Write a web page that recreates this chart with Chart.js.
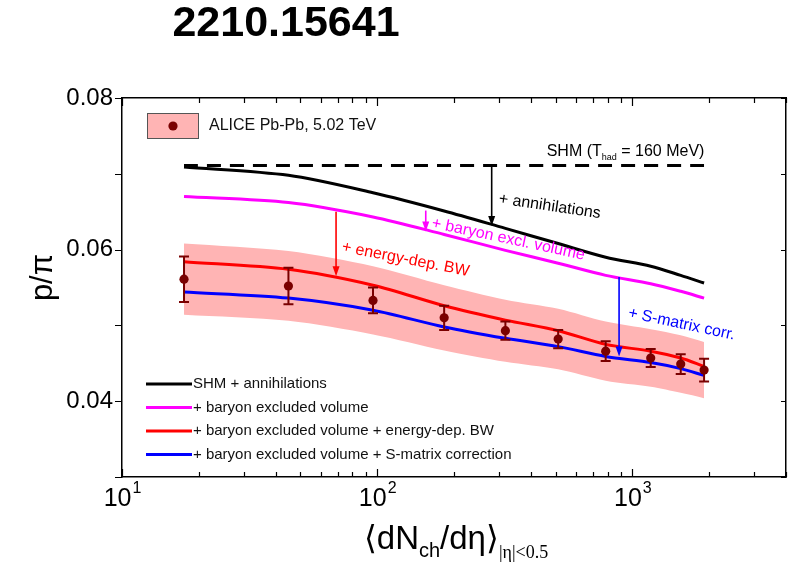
<!DOCTYPE html>
<html>
<head>
<meta charset="utf-8">
<script src="https://cdn.jsdelivr.net/npm/chart.js@4.4.0/dist/chart.umd.min.js"></script>
<style>
  html, body { margin: 0; padding: 0; background: #fff; }
  #wrap { width: 795px; height: 563px; }
</style>
</head>
<body>
<div id="wrap"><canvas id="c" width="795" height="563"></canvas></div>
<script>
// Charged-particle multiplicity <dNch/deta> of the centrality classes
const multiplicity = [17.5, 44.9, 96.3, 183, 318, 512, 786, 1180, 1547, 1910];

// ALICE p/pi ratio and its uncertainty
const aliceRatio = [0.0561, 0.0552, 0.0533, 0.0510, 0.0493, 0.0482, 0.0466, 0.0457, 0.0449, 0.0441];
const aliceErr   = [0.0030, 0.0024, 0.0017, 0.0016, 0.0012, 0.0012, 0.0013, 0.0012, 0.0013, 0.0015];

// Shaded uncertainty band around the measurement
const bandUpper = [0.0608, 0.0598, 0.0578, 0.0553, 0.0534, 0.0522, 0.0505, 0.0495, 0.0487, 0.0478];
const bandLower = [0.0514, 0.0506, 0.0488, 0.0467, 0.0452, 0.0442, 0.0427, 0.0419, 0.0411, 0.0404];

// Model curves
const shmBaselineX = [17.5, 1910];
const shmBaseline  = [0.0711, 0.0711];
const shmAnnihilations = [0.0709, 0.0698, 0.0675, 0.0651, 0.0628, 0.0608, 0.0590, 0.0578, 0.0566, 0.0556];
const baryonExclVolume = [0.0670, 0.0662, 0.0643, 0.0620, 0.0599, 0.0582, 0.0566, 0.0555, 0.0545, 0.0536];
const energyDepBW      = [0.0584, 0.0574, 0.0553, 0.0526, 0.0507, 0.0493, 0.0475, 0.0466, 0.0457, 0.0446];
const sMatrixCorr      = [0.0544, 0.0536, 0.0520, 0.0498, 0.0483, 0.0472, 0.0459, 0.0451, 0.0443, 0.0434];

// Axis ranges and labelled ticks
const xRange = [10, 4000];
const yRange = [0.03, 0.08];
const yTickLabels = [0.04, 0.06, 0.08];
const xDecades = [1, 2, 3];

// Arrows between model stages (x value, start y, end y) and their captions
const arrows = [
  { x: 281, from: 0.0711, to: 0.0631, color: '#000000' },
  { x: 155, from: 0.06515, to: 0.0624, color: '#ff00ff' },
  { x: 69,  from: 0.0650, to: 0.0565, color: '#ff0000' },
  { x: 887, from: 0.0564, to: 0.0459, color: '#0000ff' }
];
const captions = [
  { text: '+ annihilations',       x: 300, y: 0.0667,  angle: 8.4,  color: '#000000' },
  { text: '+ baryon excl. volume', x: 164, y: 0.0635,  angle: 12,   color: '#ff00ff' },
  { text: '+ energy-dep. BW',      x: 72.9, y: 0.06034, angle: 11,  color: '#ff0000' },
  { text: '+ S-matrix corr.',      x: 964, y: 0.05166, angle: 12,   color: '#0000ff' }
];

const FONT = '"Liberation Sans", Arial, Helvetica, sans-serif';
const pts = (xs, ys) => xs.map((x, i) => ({ x: x, y: ys[i] }));

const curveStyle = { borderWidth: 3, pointRadius: 0, fill: false, tension: 0.3 };

const datasets = [
  { label: 'band upper', data: pts(multiplicity, bandUpper), borderWidth: 0, pointRadius: 0,
    fill: false, tension: 0.3, order: 20, borderColor: 'rgba(0,0,0,0)' },
  { label: 'band lower', data: pts(multiplicity, bandLower), borderWidth: 0, pointRadius: 0,
    fill: '-1', backgroundColor: '#ffb4b4', tension: 0.3, order: 19, borderColor: 'rgba(0,0,0,0)' },
  Object.assign({ label: 'SHM', data: pts(shmBaselineX, shmBaseline), borderColor: '#000000',
    borderDash: [14, 9], order: 6 }, curveStyle),
  Object.assign({ label: 'SHM + annihilations', data: pts(multiplicity, shmAnnihilations),
    borderColor: '#000000', order: 5, inLegend: true }, curveStyle),
  Object.assign({ label: '+ baryon excluded volume', data: pts(multiplicity, baryonExclVolume),
    borderColor: '#ff00ff', order: 4, inLegend: true }, curveStyle),
  Object.assign({ label: '+ baryon excluded volume + energy-dep. BW', data: pts(multiplicity, energyDepBW),
    borderColor: '#ff0000', order: 3, inLegend: true }, curveStyle),
  Object.assign({ label: '+ baryon excluded volume + S-matrix correction', data: pts(multiplicity, sMatrixCorr),
    borderColor: '#0000ff', order: 2, inLegend: true }, curveStyle),
  { label: 'ALICE Pb-Pb, 5.02 TeV', data: pts(multiplicity, aliceRatio), showLine: false,
    pointRadius: 4.6, pointBackgroundColor: '#7a0000', pointBorderColor: '#7a0000',
    pointBorderWidth: 0, order: 0 }
];
const ALICE_INDEX = datasets.length - 1;

// Draws the error bars under the ALICE markers
const errorBars = {
  id: 'errorBars',
  beforeDatasetDraw(chart, args) {
    if (args.index !== ALICE_INDEX) return;
    const { ctx, scales: { x, y } } = chart;
    ctx.save();
    ctx.strokeStyle = '#7a0000';
    ctx.lineWidth = 2;
    multiplicity.forEach((m, i) => {
      const px = x.getPixelForValue(m);
      const top = y.getPixelForValue(aliceRatio[i] + aliceErr[i]);
      const bot = y.getPixelForValue(aliceRatio[i] - aliceErr[i]);
      ctx.beginPath();
      ctx.moveTo(px, top); ctx.lineTo(px, bot);
      ctx.moveTo(px - 5, top); ctx.lineTo(px + 5, top);
      ctx.moveTo(px - 5, bot); ctx.lineTo(px + 5, bot);
      ctx.stroke();
    });
    ctx.restore();
  }
};

// Tick marks on all four sides, decade labels, axis titles, annotations and legends
const decorations = {
  id: 'decorations',
  afterDraw(chart) {
    const { ctx, chartArea: a, scales: { x, y } } = chart;
    ctx.save();

    // x tick marks (inward, bottom and top)
    ctx.strokeStyle = '#000';
    ctx.lineWidth = 1.2;
    for (let d = 1; d <= 3; d++) {
      for (let k = 1; k <= 9; k++) {
        const v = k * Math.pow(10, d);
        if (v < xRange[0] || v > xRange[1]) continue;
        const px = Math.round(x.getPixelForValue(v)) + 0.5;
        const len = k === 1 ? 8 : 5;
        ctx.beginPath();
        ctx.moveTo(px, a.bottom); ctx.lineTo(px, a.bottom - len);
        ctx.moveTo(px, a.top); ctx.lineTo(px, a.top + len);
        ctx.stroke();
      }
    }
    // y tick marks (left outward, right inward)
    for (let v = 3; v <= 8; v++) {
      const py = Math.round(y.getPixelForValue(v / 100)) + 0.5;
      ctx.beginPath();
      ctx.moveTo(a.left, py); ctx.lineTo(a.left - 7, py);
      ctx.moveTo(a.right, py); ctx.lineTo(a.right - 5, py);
      ctx.stroke();
    }

    // y labels
    ctx.fillStyle = '#000';
    ctx.font = '24px ' + FONT;
    ctx.textAlign = 'right';
    ctx.textBaseline = 'middle';
    yTickLabels.forEach(v => {
      ctx.fillText(v.toFixed(2), a.left - 9, y.getPixelForValue(v));
    });

    // x decade labels 10^n
    ctx.textBaseline = 'alphabetic';
    xDecades.forEach(n => {
      const px = x.getPixelForValue(Math.pow(10, n));
      ctx.font = '25px ' + FONT;
      const w1 = ctx.measureText('10').width;
      ctx.font = '16px ' + FONT;
      const w2 = ctx.measureText(String(n)).width;
      const left = px - (w1 + w2) / 2;
      ctx.textAlign = 'left';
      ctx.font = '25px ' + FONT;
      ctx.fillText('10', left, a.bottom + 29);
      ctx.font = '16px ' + FONT;
      ctx.fillText(String(n), left + w1 + 1, a.bottom + 16);
    });

    // x axis title <dNch/deta>_{|eta|<0.5}
    {
      const parts = [
        { t: '\u27E8dN', f: '33px ' + FONT, dy: 0 },
        { t: 'ch', f: '20px ' + FONT, dy: 8 },
        { t: '/d\u03B7\u27E9', f: '33px ' + FONT, dy: 0 },
        { t: '|\u03B7|<0.5', f: '18px "Liberation Serif", "Times New Roman", serif', dy: 9 }
      ];
      let total = 0;
      parts.forEach(p => { ctx.font = p.f; p.w = ctx.measureText(p.t).width; total += p.w; });
      let cx = (a.left + a.right) / 2 - total / 2 + 2;
      const base = a.bottom + 72;
      ctx.textAlign = 'left';
      parts.forEach(p => { ctx.font = p.f; ctx.fillText(p.t, cx, base + p.dy); cx += p.w; });
    }

    // y axis title
    ctx.save();
    ctx.translate(43, (a.top + a.bottom) / 2 - 10);
    ctx.rotate(-Math.PI / 2);
    ctx.textAlign = 'center';
    ctx.textBaseline = 'middle';
    ctx.font = '31px ' + FONT;
    ctx.fillText('p/\u03C0', 0, 0);
    ctx.restore();

    // SHM baseline label with subscript
    {
      const px = x.getPixelForValue(461.6);
      const py = y.getPixelForValue(0.0730) + 5;
      const parts = [
        { t: 'SHM (T', f: '16px ' + FONT, dy: 0 },
        { t: 'had', f: '9px ' + FONT, dy: 4 },
        { t: ' = 160 MeV)', f: '16px ' + FONT, dy: 0 }
      ];
      let cx = px;
      ctx.textAlign = 'left';
      ctx.textBaseline = 'alphabetic';
      parts.forEach(p => { ctx.font = p.f; ctx.fillText(p.t, cx, py + p.dy); cx += ctx.measureText(p.t).width; });
    }

    // arrows
    arrows.forEach(ar => {
      const px = x.getPixelForValue(ar.x);
      const y0 = y.getPixelForValue(ar.from);
      const y1 = y.getPixelForValue(ar.to);
      ctx.strokeStyle = ar.color;
      ctx.fillStyle = ar.color;
      ctx.lineWidth = 1.6;
      ctx.beginPath();
      ctx.moveTo(px, y0); ctx.lineTo(px, y1 - 8);
      ctx.stroke();
      ctx.beginPath();
      ctx.moveTo(px, y1);
      ctx.lineTo(px - 3.5, y1 - 10);
      ctx.lineTo(px + 3.5, y1 - 10);
      ctx.closePath();
      ctx.fill();
    });

    // rotated captions
    captions.forEach(c => {
      ctx.save();
      ctx.translate(x.getPixelForValue(c.x), y.getPixelForValue(c.y));
      ctx.rotate(c.angle * Math.PI / 180);
      ctx.fillStyle = c.color;
      ctx.font = '16px ' + FONT;
      ctx.textAlign = 'left';
      ctx.textBaseline = 'middle';
      ctx.fillText(c.text, 0, 0);
      ctx.restore();
    });

    // data legend (top left)
    {
      const bx = a.left + 25, by = a.top + 15;
      ctx.fillStyle = '#ffb4b4';
      ctx.fillRect(bx, by, 51, 25);
      ctx.strokeStyle = '#555';
      ctx.lineWidth = 1;
      ctx.strokeRect(bx + 0.5, by + 0.5, 51, 25);
      ctx.fillStyle = '#7a0000';
      ctx.beginPath();
      ctx.arc(bx + 26, by + 13, 4.6, 0, Math.PI * 2);
      ctx.fill();
      ctx.fillStyle = '#111';
      ctx.font = '16px ' + FONT;
      ctx.textAlign = 'left';
      ctx.textBaseline = 'middle';
      ctx.fillText(datasets[ALICE_INDEX].label, bx + 62, by + 13);
    }

    // model legend (bottom left)
    {
      const items = chart.data.datasets.filter(d => d.inLegend);
      const lx = a.left + 24, ly0 = a.bottom - 93, step = 23.5;
      items.forEach((d, i) => {
        const ly = ly0 + i * step;
        ctx.strokeStyle = d.borderColor;
        ctx.lineWidth = 3;
        ctx.beginPath();
        ctx.moveTo(lx, ly); ctx.lineTo(lx + 46, ly);
        ctx.stroke();
        ctx.fillStyle = '#111';
        ctx.font = '15px ' + FONT;
        ctx.textAlign = 'left';
        ctx.textBaseline = 'middle';
        ctx.fillText(d.label, lx + 47, ly);
      });
    }

    // page heading
    ctx.fillStyle = '#000';
    ctx.font = 'bold 43px ' + FONT;
    ctx.textAlign = 'center';
    ctx.textBaseline = 'middle';
    ctx.fillText('2210.15641', 286, 24);

    ctx.restore();
  }
};

const fixedSize = (prop, val) => (scale) => { scale[prop] = val; };
const frameBorder = { display: true, color: '#000', width: 1.5 };

new Chart(document.getElementById('c'), {
  type: 'line',
  data: { datasets: datasets },
  options: {
    responsive: false,
    animation: false,
    devicePixelRatio: 1,
    layout: { padding: 0 },
    plugins: { legend: { display: false }, tooltip: { enabled: false } },
    scales: {
      x: {
        type: 'logarithmic', position: 'bottom', min: xRange[0], max: xRange[1],
        ticks: { display: false }, grid: { display: false, drawTicks: false },
        border: frameBorder, afterFit: fixedSize('height', 86)
      },
      xTop: {
        type: 'logarithmic', position: 'top', min: xRange[0], max: xRange[1],
        ticks: { display: false }, grid: { display: false, drawTicks: false },
        border: frameBorder, afterFit: fixedSize('height', 98)
      },
      y: {
        type: 'linear', position: 'left', min: yRange[0], max: yRange[1],
        ticks: { display: false }, grid: { display: false, drawTicks: false },
        border: frameBorder, afterFit: fixedSize('width', 122)
      },
      yRight: {
        type: 'linear', position: 'right', min: yRange[0], max: yRange[1],
        ticks: { display: false }, grid: { display: false, drawTicks: false },
        border: frameBorder, afterFit: fixedSize('width', 9)
      }
    }
  },
  plugins: [errorBars, decorations]
});
</script>
</body>
</html>
